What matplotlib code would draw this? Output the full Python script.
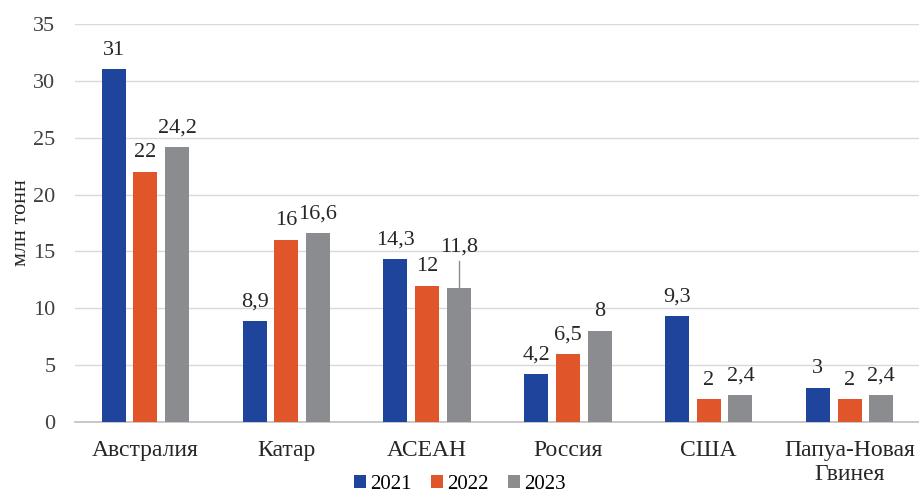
import matplotlib.pyplot as plt
import numpy as np

plt.rcParams['font.family'] = ['Liberation Serif', 'DejaVu Serif']

categories = ['Австралия', 'Катар', 'АСЕАН', 'Россия', 'США', 'Папуа-Новая\nГвинея']
years = ['2021', '2022', '2023']
v2021 = [31, 8.9, 14.3, 4.2, 9.3, 3]
v2022 = [22, 16, 12, 6, 2, 2]
v2023 = [24.2, 16.6, 11.8, 8, 2.4, 2.4]
lab2021 = ['31', '8,9', '14,3', '4,2', '9,3', '3']
lab2022 = ['22', '16', '12', '6,5', '2', '2']
lab2023 = ['24,2', '16,6', '11,8', '8', '2,4', '2,4']

colors = ['#1F449C', '#E0562A', '#8B8C8F']

fig = plt.figure(figsize=(9.2, 4.99), dpi=100)
ax = fig.add_axes([0.0815, 0.154, 0.9185, 0.798])

x = np.arange(len(categories))
w = 0.17
step = 0.225
series = [v2021, v2022, v2023]
labels = [lab2021, lab2022, lab2023]
for i, (vals, labs) in enumerate(zip(series, labels)):
    pos = x + (i - 1) * step
    ax.bar(pos, vals, width=w, color=colors[i], label=years[i], zorder=3)
    for j, (p, v, t) in enumerate(zip(pos, vals, labs)):
        if i == 2 and j == 2:
            # label moved up with a leader line
            ax.plot([p, p], [v, 14.2], color='#8B8C8F', lw=1, zorder=2)
            ax.annotate(t, (p, 14.2), xytext=(0, 3), textcoords='offset points',
                        ha='center', va='bottom', fontsize=16, color='#262626')
        else:
            ax.annotate(t, (p, v), xytext=(0, 7), textcoords='offset points',
                        ha='center', va='bottom', fontsize=16, color='#262626')

ax.set_xlim(-0.5, len(categories) - 0.5)
ax.set_ylim(0, 35)
ax.set_yticks(range(0, 36, 5))
ax.set_xticks(x)
ax.set_xticklabels(categories, fontsize=17, linespacing=1.2)
ax.tick_params(axis='y', labelsize=16, length=0, pad=14, colors='#404040')
ax.tick_params(axis='x', length=0, pad=13, colors='#262626')
ax.grid(axis='y', color='#D9D9D9', lw=1, zorder=0)
for s in ['top', 'right', 'left']:
    ax.spines[s].set_visible(False)
ax.spines['bottom'].set_color('#BFBFBF')
ax.spines['bottom'].set_linewidth(1.2)
ax.set_ylabel('млн тонн', fontsize=16, labelpad=2, color='#262626')

fig.legend(loc='lower center', bbox_to_anchor=(0.5, -0.028), ncol=3, frameon=False,
           fontsize=15, handlelength=0.6, handleheight=0.6, handletextpad=0.2,
           columnspacing=0.9)

fig.savefig('out.png', dpi=100)
